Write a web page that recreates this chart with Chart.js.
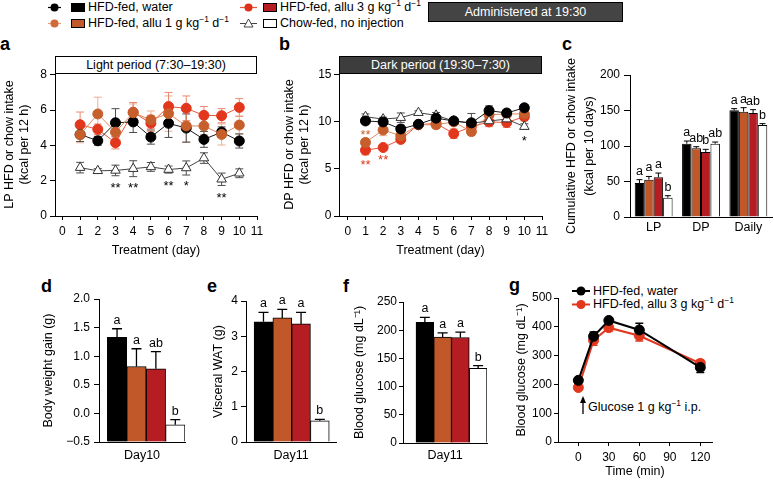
<!DOCTYPE html>
<html><head><meta charset="utf-8">
<title>Allulose feeding figure</title>
<script src="https://cdn.jsdelivr.net/npm/chart.js@4.4.1/dist/chart.umd.min.js"></script>
<style>
html,body{margin:0;padding:0;background:#fff;}
body{position:relative;width:774px;height:483px;overflow:hidden;font-family:"Liberation Sans",Arial,Helvetica,sans-serif;color:#000;}
canvas{position:absolute;}
.t{position:absolute;white-space:nowrap;font-size:12.5px;line-height:12.5px;}
.s{font-size:8.5px;position:relative;top:-5px;}
.L{position:absolute;font-weight:bold;font-size:18px;line-height:18px;}
.box{position:absolute;box-sizing:border-box;border:1px solid #000;display:flex;align-items:center;justify-content:center;font-size:12.5px;white-space:nowrap;}
#ovl{position:absolute;left:0;top:0;}
</style></head><body>
<svg id="ovl" width="774" height="483">
  <!-- top legend markers -->
  <line x1="48" y1="7.5" x2="61" y2="7.5" stroke="#000" stroke-width="1.2"/>
  <circle cx="54.5" cy="7.5" r="4" fill="#000"/>
  <rect x="71.5" y="3.5" width="13" height="8" fill="#000" stroke="#000"/>
  <line x1="48" y1="23.5" x2="61" y2="23.5" stroke="#e3a07c" stroke-width="1.2"/>
  <circle cx="54.5" cy="23.5" r="4" fill="#d26a38"/>
  <rect x="71.5" y="19.5" width="13" height="8" fill="#c0582a" stroke="#000"/>
  <line x1="240" y1="7.5" x2="257" y2="7.5" stroke="#e8563a" stroke-width="1.2"/>
  <circle cx="248.5" cy="7.5" r="4" fill="#dc321c"/>
  <rect x="263.5" y="3.5" width="13" height="8" fill="#b51d22" stroke="#000"/>
  <line x1="240" y1="23.5" x2="257" y2="23.5" stroke="#444" stroke-width="1"/>
  <polygon points="248.5,19 253,27 244,27" fill="#fff" stroke="#444" stroke-width="1"/>
  <rect x="263.5" y="19.5" width="13" height="8" fill="#fff" stroke="#000"/>
  <!-- panel g legend markers -->
  <line x1="572" y1="291" x2="590" y2="291" stroke="#000" stroke-width="2"/>
  <circle cx="581" cy="291" r="4.5" fill="#000"/>
  <line x1="572" y1="304.5" x2="590" y2="304.5" stroke="#e2371d" stroke-width="2"/>
  <circle cx="581" cy="304.5" r="4.5" fill="#e2371d"/>
  <!-- glucose arrow -->
  <line x1="583" y1="414" x2="583" y2="401" stroke="#000" stroke-width="1.3"/>
  <polygon points="583,396 580,403 586,403" fill="#000"/>
</svg>

<div class="t" style="left:88px;top:1.4px">HFD-fed, water</div>
<div class="t" style="left:88px;top:17.4px">HFD-fed, allu 1 g kg<span class="s">−1</span> d<span class="s">−1</span></div>
<div class="t" style="left:280px;top:1.4px">HFD-fed, allu 3 g kg<span class="s">−1</span> d<span class="s">−1</span></div>
<div class="t" style="left:280px;top:17.4px">Chow-fed, no injection</div>
<div class="box" style="left:428px;top:2px;width:195px;height:20px;background:#444;color:#fff">Administered at 19:30</div>

<div class="box" style="left:55px;top:56px;width:202px;height:18px;background:#fff;color:#000">Light period (7:30–19:30)</div>
<div class="box" style="left:339px;top:56px;width:203px;height:18px;background:#3d3d3d;color:#fff">Dark period (19:30–7:30)</div>

<div class="L" style="left:0px;top:34.8px">a</div>
<div class="L" style="left:279px;top:35px">b</div>
<div class="L" style="left:562px;top:35px">c</div>
<div class="L" style="left:41px;top:276.5px">d</div>
<div class="L" style="left:207px;top:276.5px">e</div>
<div class="L" style="left:343px;top:276.5px">f</div>
<div class="L" style="left:509px;top:276px">g</div>

<div class="t" style="left:593px;top:284.9px">HFD-fed, water</div>
<div class="t" style="left:593px;top:298.4px">HFD-fed, allu 3 g kg<span class="s">−1</span> d<span class="s">−1</span></div>
<div class="t" style="left:588px;top:400.9px">Glucose 1 g kg<span class="s">−1</span> i.p.</div>

<script>
// ---------------- DATA ----------------
const days = [1,2,3,4,5,6,7,8,9,10];
const dayTicks = [0,1,2,3,4,5,6,7,8,9,10,11];

// a: light-period intake (kcal per 12 h)
const lpWater    = [4.62,4.26,5.28,5.33,4.47,5.25,4.98,4.34,4.75,4.25];
const lpWaterErr = [0.4,0.25,0.8,0.6,0.4,0.8,0.8,0.45,0.3,0.4];
const lpAllu1    = [4.6,5.78,4.75,5.85,5.45,5.8,5.1,5.1,4.62,5.15];
const lpAllu1Err = [0.45,0.95,0.5,0.5,0.5,1.0,0.9,0.5,0.6,0.5];
const lpAllu3    = [5.17,4.91,4.15,5.88,5.25,6.2,6.1,5.7,5.68,6.15];
const lpAllu3Err = [0.72,0.3,0.35,0.55,0.45,0.8,0.7,0.5,0.4,0.5];
const lpChow     = [2.74,2.56,2.58,2.68,2.78,2.63,2.72,3.28,2.08,2.42];
const lpChowErr  = [0.3,0.12,0.3,0.45,0.25,0.2,0.4,0.3,0.35,0.25];
const lpYTicks   = [0,2,4,6,8];
const lpSigDays  = [3,4,6,7,9];
const lpSigText  = ['**','**','**','*','**'];
const lpSigLevel = [1.8,1.8,1.9,1.9,1.22];

// b: dark-period intake (kcal per 12 h)
const dpWater    = [10.1,10.0,9.25,9.75,10.4,10.1,9.9,11.2,10.95,11.5];
const dpWaterErr = [0.3,0.3,0.4,0.3,0.3,0.3,1.0,0.5,0.3,0.35];
const dpAllu1    = [7.82,9.14,8.53,9.7,9.7,10.0,8.97,10.75,10.85,10.85];
const dpAllu1Err = [0.4,0.6,0.35,0.3,0.4,0.3,0.4,0.4,0.4,0.4];
const dpAllu3    = [7.0,7.28,8.14,9.7,9.85,8.75,9.5,10.0,9.93,10.56];
const dpAllu3Err = [0.5,0.25,0.3,0.3,0.3,0.5,0.5,0.5,0.5,0.45];
const dpChow     = [10.55,10.3,10.45,10.98,10.7,10.1,9.86,10.1,10.3,9.5];
const dpChowErr  = [0.3,0.2,0.5,0.2,0.3,0.2,0.2,0.3,0.3,0.3];
const dpYTicks   = [0,5,10,15];
const dpSigDays  = [1,1,2,10];
const dpSigText  = ['**','**','**','*'];
const dpSigLevel = [8.94,5.74,6.28,8.3];
const dpSigGroup = ['allu1','allu3','allu3','chow'];

// c: cumulative intake (kcal per 10 days)
const cumCats     = ['LP','DP','Daily'];
const cumWater    = [47.9,103.3,150.2];
const cumWaterErr = [4.7,3.7,2.4];
const cumAllu1    = [52.6,96.7,148.4];
const cumAllu1Err = [4.5,2.3,5.6];
const cumAllu3    = [55.9,91.5,146.5];
const cumAllu3Err = [6.0,3.8,4.7];
const cumChow     = [27.2,103.3,129.6];
const cumChowErr  = [2.8,2.3,1.9];
const cumLetWater = ['a','a','a'];
const cumLetAllu1 = ['a','ab','a'];
const cumLetAllu3 = ['a','b','ab'];
const cumLetChow  = ['b','ab','b'];
const cumYTicks   = [0,50,100,150,200];

// groups for d, e, f (water, allu 1, allu 3, chow)
const groupIdx = [1,2,3,4];
// d: body weight gain (g), Day10
const bwGain    = [1.33,0.82,0.78,-0.2];
const bwGainErr = [0.15,0.31,0.3,0.09];
const bwLetters = ['a','a','ab','b'];
const bwYTicks  = [-0.5,0,0.5,1,1.5,2];
// e: visceral WAT (g), Day11
const wat       = [3.41,3.52,3.35,0.6];
const watErr    = [0.27,0.24,0.33,0.04];
const watLetters= ['a','a','a','b'];
const watYTicks = [0,1,2,3,4];
// f: blood glucose (mg/dL), Day11
const bg        = [213.8,188,187,132.4];
const bgErr     = [9,7.3,9.6,4.8];
const bgLetters = ['a','a','a','b'];
const bgYTicks  = [0,50,100,150,200,250];

// g: glucose tolerance test
const gttTime     = [0,15,30,60,120];
const gttWater    = [214,367,422,389,259];
const gttWaterErr = [6,15,6,23,18];
const gttAllu3    = [189,353,397,369,273];
const gttAllu3Err = [5,17,12,18,12];
const gttXTicks   = [0,30,60,90,120];
const gttYTicks   = [0,100,200,300,400,500];

// ---------------- STYLE ----------------
const FONT = '"Liberation Sans", Arial, Helvetica, sans-serif';
Chart.defaults.font.family = FONT;
Chart.defaults.color = '#000';
Chart.defaults.animation = false;
Chart.defaults.events = [];
Chart.defaults.plugins.legend.display = false;
Chart.defaults.plugins.tooltip.enabled = false;

const STY = {
  water: {line:'#1a1a1a', fill:'#000', stroke:'#000', ps:'circle', r:5, err:'#4d4d4d'},
  allu1: {line:'#de8a5e', fill:'#c65f2c', stroke:'#c65f2c', ps:'circle', r:5, err:'#e8b092'},
  allu3: {line:'#e8563a', fill:'#e2371d', stroke:'#e2371d', ps:'circle', r:5, err:'#ee8870'},
  chow:  {line:'#444', fill:'#fff', stroke:'#333', ps:'triangle', r:5.5, err:'#4d4d4d'}
};
const BAR = ['#000000','#c0582a','#b51d22','#ffffff'];

function valOf(d){ return (d !== null && typeof d === 'object') ? d.y : d; }

function drawErr(chart, after){
  const ctx = chart.ctx, ys = chart.scales.y;
  chart.data.datasets.forEach((ds,i)=>{
    if(!ds.errors || !!ds.errAfter !== after) return;
    const meta = chart.getDatasetMeta(i);
    ctx.save();
    ctx.strokeStyle = ds.errColor; ctx.lineWidth = ds.errWidth || 1;
    meta.data.forEach((el,j)=>{
      const e = ds.errors[j]; if(e == null) return;
      const v = valOf(ds.data[j]);
      const top = ys.getPixelForValue(v+e);
      const bot = ds.errUpOnly ? ys.getPixelForValue(v) : ys.getPixelForValue(v-e);
      const h = (ds.capWidth||8)/2;
      ctx.beginPath();
      ctx.moveTo(el.x, bot); ctx.lineTo(el.x, top);
      ctx.moveTo(el.x-h, top); ctx.lineTo(el.x+h, top);
      if(!ds.errUpOnly){ ctx.moveTo(el.x-h, bot); ctx.lineTo(el.x+h, bot); }
      ctx.stroke();
    });
    ctx.restore();
  });
}
function drawLetters(chart){
  const ctx = chart.ctx, ys = chart.scales.y;
  chart.data.datasets.forEach((ds,i)=>{
    if(!ds.letters) return;
    const meta = chart.getDatasetMeta(i);
    ctx.save();
    ctx.fillStyle = '#000'; ctx.font = '12.5px ' + FONT;
    ctx.textAlign = 'center'; ctx.textBaseline = 'alphabetic';
    meta.data.forEach((el,j)=>{
      const v = valOf(ds.data[j]), e = (ds.errors && ds.errors[j]) || 0;
      ctx.fillText(ds.letters[j], el.x, ys.getPixelForValue(v+e) - 5);
    });
    ctx.restore();
  });
}
Chart.register({
  id:'errbars',
  beforeDatasetsDraw(chart){ drawErr(chart,false); },
  afterDatasetsDraw(chart){ drawErr(chart,true); drawLetters(chart); }
});
function marksPlugin(xs, ys, texts, colors){
  return { id:'marks', afterDatasetsDraw(chart){
    const ctx = chart.ctx; ctx.save();
    ctx.font = '13px ' + FONT; ctx.textAlign = 'center'; ctx.textBaseline = 'alphabetic';
    xs.forEach((x,i)=>{
      ctx.fillStyle = colors[i];
      ctx.fillText(texts[i], chart.scales.x.getPixelForValue(x), chart.scales.y.getPixelForValue(ys[i]) + 7.5);
    });
    ctx.restore();
  }};
}

function panel(rect, area, config){
  const cv = document.createElement('canvas');
  cv.width = rect.w; cv.height = rect.h;
  Object.assign(cv.style, {left:rect.x+'px', top:rect.y+'px', width:rect.w+'px', height:rect.h+'px'});
  document.body.appendChild(cv);
  const o = config.options;
  o.responsive = false; o.maintainAspectRatio = false; o.devicePixelRatio = 1;
  o.layout = {padding:{left:0, bottom:0, top:area.t-rect.y, right:rect.x+rect.w-area.r}};
  o.scales.y.afterFit = s => { s.width = area.l - rect.x; };
  o.scales.x.afterFit = s => { s.height = rect.y + rect.h - area.b; };
  return new Chart(cv.getContext('2d'), config);
}
function yAxis(p){
  const lh = p.lh || 1.2;
  return {
    type:'linear', position:'left', min:p.min, max:p.max,
    afterBuildTicks: s => { s.ticks = p.ticks.map(v=>({value:v})); },
    ticks:{font:{size:12}, color:'#000', padding:p.pad, callback: p.fmt || (v=>String(v))},
    grid:{display:true, drawOnChartArea:false, drawTicks:true, tickLength:p.tl, tickWidth:1, color:'#000'},
    border:{display:true, color:'#000', width:1},
    title:{display:true, text:p.title, color:'#000', font:{size:12.5, lineHeight:lh},
           padding:{top:p.titleX - p.rx - 12.5*lh/2, bottom:0}}
  };
}
function xTitlePad(rect, cy){ return rect.y + rect.h - cy - 7.5; }

function lineDs(xs, vals, errs, sty, extra){
  return Object.assign({
    data: xs.map((x,i)=>({x:x, y:vals[i]})),
    borderColor: sty.line, borderWidth: 1, tension: 0,
    pointRadius: sty.r, pointStyle: sty.ps,
    pointBackgroundColor: sty.fill, pointBorderColor: sty.stroke, pointBorderWidth: 1,
    errors: errs, errColor: sty.err, capWidth: 8, errWidth: 1
  }, extra || {});
}
function dayAxis(rect, min){
  return {
    type:'linear', position:'bottom', min:min, max:11,
    afterBuildTicks: s => { s.ticks = dayTicks.map(v=>({value:v})); },
    ticks:{font:{size:12}, color:'#000', padding:4, autoSkip:false, maxRotation:0},
    grid:{display:true, drawOnChartArea:false, drawTicks:true, tickLength:4, color:'#000'},
    border:{display:true, color:'#000', width:1},
    title:{display:true, text:'Treatment (day)', color:'#000', font:{size:12.5},
           padding:{top:0, bottom:xTitlePad(rect, 251)}}
  };
}

// ---------- panel a ----------
(function(){
  const rect = {x:0, y:40, w:268, h:222};
  panel(rect, {l:55, t:73, r:257, b:216}, {
    type:'line',
    data:{datasets:[
      lineDs(days, lpAllu1, lpAllu1Err, STY.allu1),
      lineDs(days, lpWater, lpWaterErr, STY.water),
      lineDs(days, lpAllu3, lpAllu3Err, STY.allu3),
      lineDs(days, lpChow, lpChowErr, STY.chow)
    ]},
    options:{scales:{
      x: dayAxis(rect, -0.42),
      y: yAxis({min:0, max:8.1, ticks:lpYTicks, title:['LP HFD or chow intake','(kcal per 12 h)'],
                titleX:10, rx:rect.x, tl:5, pad:3})
    }},
    plugins:[marksPlugin(lpSigDays, lpSigLevel, lpSigText, lpSigDays.map(()=>'#000'))]
  });
})();

// ---------- panel b ----------
(function(){
  const rect = {x:268, y:40, w:290, h:222};
  const col = {allu1:STY.allu1.fill, allu3:STY.allu3.fill, chow:'#000'};
  panel(rect, {l:339, t:73, r:542, b:216}, {
    type:'line',
    data:{datasets:[
      lineDs(days, dpWater, dpWaterErr, STY.water),
      lineDs(days, dpChow, dpChowErr, STY.chow),
      lineDs(days, dpAllu1, dpAllu1Err, STY.allu1),
      lineDs(days, dpAllu3, dpAllu3Err, STY.allu3)
    ]},
    options:{scales:{
      x: dayAxis(rect, -0.5),
      y: yAxis({min:0, max:15.2, ticks:dpYTicks, title:['DP HFD or chow intake','(kcal per 12 h)'],
                titleX:290, rx:rect.x, tl:5, pad:2.5})
    }},
    plugins:[marksPlugin(dpSigDays, dpSigLevel, dpSigText, dpSigGroup.map(g=>col[g]))]
  });
})();

// ---------- panel c ----------
(function(){
  const rect = {x:540, y:40, w:234, h:210};
  const bar = (vals, errs, lets, c) => ({data:vals, backgroundColor:c, borderColor:'#000', borderWidth:1,
      errors:errs, errUpOnly:true, errAfter:true, errColor:'#000', capWidth:6, errWidth:1, letters:lets});
  panel(rect, {l:630, t:75, r:772, b:217}, {
    type:'bar',
    data:{labels:cumCats, datasets:[
      bar(cumWater, cumWaterErr, cumLetWater, BAR[0]),
      bar(cumAllu1, cumAllu1Err, cumLetAllu1, BAR[1]),
      bar(cumAllu3, cumAllu3Err, cumLetAllu3, BAR[2]),
      bar(cumChow, cumChowErr, cumLetChow, BAR[3])
    ]},
    options:{
      datasets:{bar:{categoryPercentage:0.8, barPercentage:1}},
      scales:{
        x:{type:'category', position:'bottom',
           ticks:{font:{size:12.5}, color:'#000', padding:3, maxRotation:0},
           grid:{display:false, drawTicks:false},
           border:{display:true, color:'#000', width:1}},
        y: yAxis({min:0, max:200, ticks:cumYTicks, title:['Cumulative HFD or chow intake','(kcal per 10 days)'],
                  titleX:572, rx:rect.x, tl:6, pad:4, lh:1.44})
      }}
  });
})();

// ---------- d, e, f bar panels ----------
function groupBarPanel(rect, area, xmin, xmax, vals, errs, lets, yopt, cat, base){
  const ds = {data: groupIdx.map((g,i)=>({x:g, y:vals[i]})), backgroundColor:BAR, borderColor:'#000',
              borderWidth:1, barPercentage:1, categoryPercentage:1,
              errors:errs, errUpOnly:true, errAfter:true, errColor:'#000', capWidth:10, errWidth:1.3, letters:lets};
  if(base !== undefined) ds.base = base;
  yopt.rx = rect.x;
  panel(rect, area, {
    type:'bar',
    data:{datasets:[ds]},
    options:{scales:{
      x:{type:'linear', position:'bottom', min:xmin, max:xmax, offset:false,
         afterBuildTicks: s => { s.ticks = groupIdx.map(v=>({value:v})); },
         ticks:{display:false},
         grid:{display:false, drawTicks:false},
         border:{display:true, color:'#000', width:1},
         title:{display:true, text:cat, color:'#000', font:{size:12.5}, padding:{top:0, bottom:xTitlePad(rect, 456)}}},
      y: yAxis(yopt)
    }}
  });
}
const minusFmt = v => v.toFixed(1).replace('-', '−');
groupBarPanel({x:20, y:280, w:180, h:203}, {l:99, t:299, r:185, b:442}, 0.07, 4.5,
  bwGain, bwGainErr, bwLetters,
  {min:-0.5, max:2.0, ticks:bwYTicks, title:'Body weight gain (g)', titleX:49, tl:5, pad:4, fmt:minusFmt},
  'Day10', -0.5);
groupBarPanel({x:200, y:280, w:145, h:203}, {l:246, t:301, r:336, b:442}, 0.07, 4.86,
  wat, watErr, watLetters,
  {min:0, max:4, ticks:watYTicks, title:'Visceral WAT (g)', titleX:219, tl:5, pad:3},
  'Day11');
groupBarPanel({x:345, y:280, w:150, h:203}, {l:403, t:302, r:487, b:443}, -0.232, 4.5,
  bg, bgErr, bgLetters,
  {min:0, max:250, ticks:bgYTicks, title:'Blood glucose (mg dL⁻¹)', titleX:360, tl:4, pad:2},
  'Day11');

// ---------- panel g ----------
(function(){
  const rect = {x:495, y:280, w:279, h:203};
  const gW = {line:'#000', fill:'#000', stroke:'#000', ps:'circle', r:5, err:'#000'};
  const gR = {line:'#e2371d', fill:'#e2371d', stroke:'#e2371d', ps:'circle', r:5, err:'#e2371d'};
  panel(rect, {l:558, t:298, r:712, b:442}, {
    type:'line',
    data:{datasets:[
      lineDs(gttTime, gttWater, gttWaterErr, gW, {borderWidth:2, errWidth:1.5}),
      lineDs(gttTime, gttAllu3, gttAllu3Err, gR, {borderWidth:2, errWidth:1.5})
    ]},
    options:{scales:{
      x:{type:'linear', position:'bottom', min:-20, max:131.5,
         afterBuildTicks: s => { s.ticks = gttXTicks.map(v=>({value:v})); },
         ticks:{font:{size:12}, color:'#000', padding:4, autoSkip:false, maxRotation:0},
         grid:{display:true, drawOnChartArea:false, drawTicks:true, tickLength:4, color:'#000'},
         border:{display:true, color:'#000', width:1},
         title:{display:true, text:'Time (min)', color:'#000', font:{size:12.5},
                padding:{top:0, bottom:xTitlePad(rect, 472)}}},
      y: yAxis({min:0, max:500, ticks:gttYTicks, title:'Blood glucose (mg dL⁻¹)', titleX:522, rx:rect.x, tl:4, pad:2})
    }}
  });
})();
</script>
</body></html>
